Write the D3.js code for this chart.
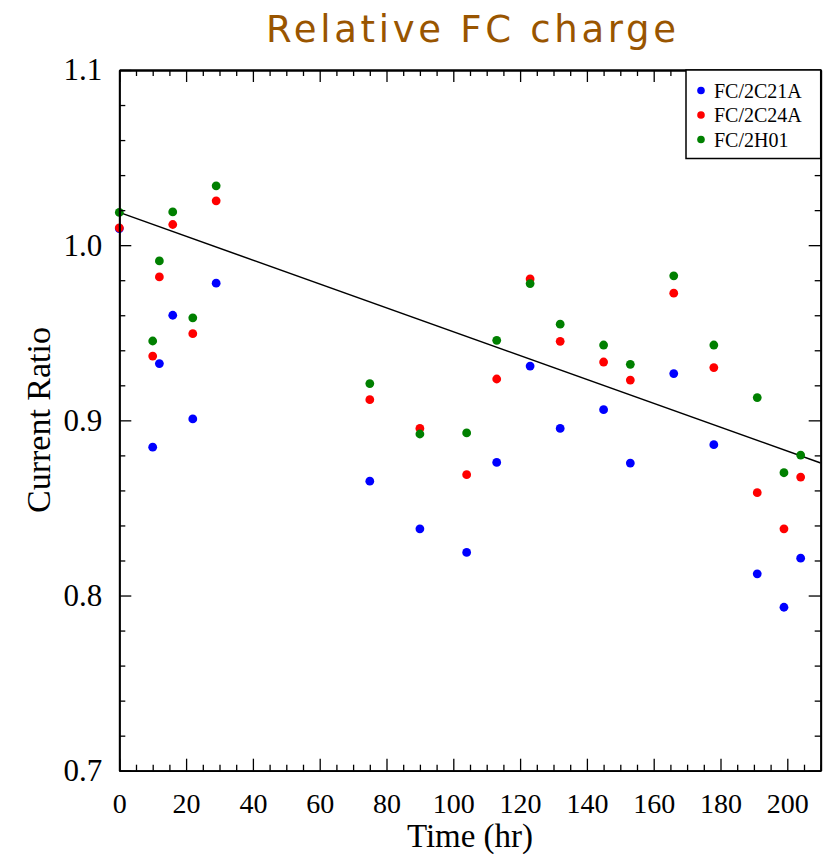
<!DOCTYPE html>
<html><head><meta charset="utf-8">
<script src="https://cdn.jsdelivr.net/npm/d3@7"></script>
<style>body{margin:0;background:#fff}svg{display:block}</style>
</head><body><svg id="c" width="836" height="854"></svg>
<script>
const times = [0, 10, 12, 16, 22, 29, 75, 90, 104, 113, 123, 132, 145, 153, 166, 178, 191, 199, 204];
const fc2c21a = [1.0095, 0.8847, 0.9324, 0.960, 0.9008, 0.9783, 0.8653, 0.8381, 0.8246, 0.876, 0.931, 0.8954, 0.9061, 0.8756, 0.9267, 0.8861, 0.8124, 0.7933, 0.8213];
const fc2c24a = [1.0099, 0.9367, 0.9819, 1.0118, 0.9495, 1.0253, 0.9118, 0.8954, 0.869, 0.9236, 0.9807, 0.9451, 0.9333, 0.923, 0.9726, 0.9301, 0.8587, 0.8381, 0.8676];
const fc2h01 = [1.0187, 0.9453, 0.991, 1.019, 0.9585, 1.0339, 0.921, 0.8922, 0.8928, 0.9457, 0.9781, 0.9549, 0.943, 0.932, 0.9825, 0.943, 0.913, 0.8701, 0.8802];
const seriesNames = ["FC/2C21A", "FC/2C24A", "FC/2H01"];
const seriesColors = ["#0000ff", "#ff0000", "#008000"];
const fitIntercept = 1.0187;
const fitSlope = -0.000681;
const xMajorTicks = [0, 20, 40, 60, 80, 100, 120, 140, 160, 180, 200];
const yMajorTicks = [0.7, 0.8, 0.9, 1.0, 1.1];

const svg = d3.select("#c");
const L = 119.3, R = 820.7, T = 70, B = 770.7;
const x = d3.scaleLinear().domain([0, 210]).range([L, R]);
const y = d3.scaleLinear().domain([0.7, 1.1]).range([B, T]);
const serif = "'Liberation Serif','Times New Roman',serif";

// title
svg.append("text").attr("x", 471).attr("y", 42).attr("text-anchor", "middle")
  .attr("font-family", "'Comic Sans MS','DejaVu Sans',sans-serif").attr("font-size", 37)
  .attr("fill", "#995500").attr("textLength", 410).attr("lengthAdjust", "spacing")
  .text("Relative FC charge");

const plot = svg.append("g");
plot.append("clipPath").attr("id", "clip").append("rect")
  .attr("x", L).attr("y", T).attr("width", R - L).attr("height", B - T);

// axes with inward ticks
const xMinor = d3.range(0, 211, 5).filter(v => v % 20 !== 0);
const yMinor = d3.range(70, 111, 2).map(v => v / 100).filter(v => Math.round(v * 100) % 10 !== 0);
const axStyle = g => { g.selectAll("path").attr("stroke", "#000").attr("stroke-width", 1.8);
  g.selectAll("line").attr("stroke", "#000").attr("stroke-width", 1.3); };

svg.append("g").attr("transform", `translate(0,${B})`)
  .call(d3.axisBottom(x).tickValues(xMinor).tickSize(-6).tickFormat("").tickSizeOuter(0)).call(axStyle);
svg.append("g").attr("transform", `translate(0,${B})`)
  .call(d3.axisBottom(x).tickValues(xMajorTicks).tickSize(-12).tickPadding(22).tickSizeOuter(0))
  .call(axStyle)
  .call(g => g.selectAll("text").attr("font-family", serif).attr("font-size", 28).attr("fill", "#000"));
svg.append("g").attr("transform", `translate(0,${T})`)
  .call(d3.axisTop(x).tickValues(xMinor).tickSize(-6).tickFormat("").tickSizeOuter(0)).call(axStyle);
svg.append("g").attr("transform", `translate(0,${T})`)
  .call(d3.axisTop(x).tickValues(xMajorTicks).tickSize(-12).tickFormat("").tickSizeOuter(0)).call(axStyle);

svg.append("g").attr("transform", `translate(${L},0)`)
  .call(d3.axisLeft(y).tickValues(yMinor).tickSize(-6).tickFormat("").tickSizeOuter(0)).call(axStyle);
svg.append("g").attr("transform", `translate(${L},0)`)
  .call(d3.axisLeft(y).tickValues(yMajorTicks).tickSize(-12).tickPadding(17).tickFormat(d3.format(".1f")).tickSizeOuter(0))
  .call(axStyle)
  .call(g => g.selectAll("text").attr("font-family", serif).attr("font-size", 31).attr("fill", "#000"));
svg.append("g").attr("transform", `translate(${R},0)`)
  .call(d3.axisRight(y).tickValues(yMinor).tickSize(-6).tickFormat("").tickSizeOuter(0)).call(axStyle);
svg.append("g").attr("transform", `translate(${R},0)`)
  .call(d3.axisRight(y).tickValues(yMajorTicks).tickSize(-12).tickFormat("").tickSizeOuter(0)).call(axStyle);

// axis titles
svg.append("text").attr("x", 470).attr("y", 847).attr("text-anchor", "middle")
  .attr("font-family", serif).attr("font-size", 33).text("Time (hr)");
svg.append("text").attr("transform", "translate(50,420) rotate(-90)").attr("text-anchor", "middle")
  .attr("font-family", serif).attr("font-size", 34).text("Current Ratio");

// fit line
const fitLine = d3.line().x(d => x(d)).y(d => y(fitIntercept + fitSlope * d));
plot.append("path").datum([0, 210]).attr("d", fitLine).attr("clip-path", "url(#clip)")
  .attr("fill", "none").attr("stroke", "#000").attr("stroke-width", 1.5);

// points
[fc2c21a, fc2c24a, fc2h01].forEach((vals, i) => {
  plot.append("g").selectAll("circle").data(vals).join("circle")
    .attr("cx", (d, j) => x(times[j])).attr("cy", d => y(d)).attr("r", 4.4)
    .attr("fill", seriesColors[i]);
});

// legend
const lg = svg.append("g");
lg.append("rect").attr("x", 686).attr("y", T).attr("width", R - 686).attr("height", 88.5)
  .attr("fill", "#fff").attr("stroke", "#000").attr("stroke-width", 1.5);
seriesNames.forEach((n, i) => {
  const cy = 90.5 + i * 24.5;
  lg.append("circle").attr("cx", 701).attr("cy", cy).attr("r", 3.8).attr("fill", seriesColors[i]);
  lg.append("text").attr("x", 714).attr("y", cy + 7).attr("font-family", serif)
    .attr("font-size", 20).text(n);
});
</script></body></html>
